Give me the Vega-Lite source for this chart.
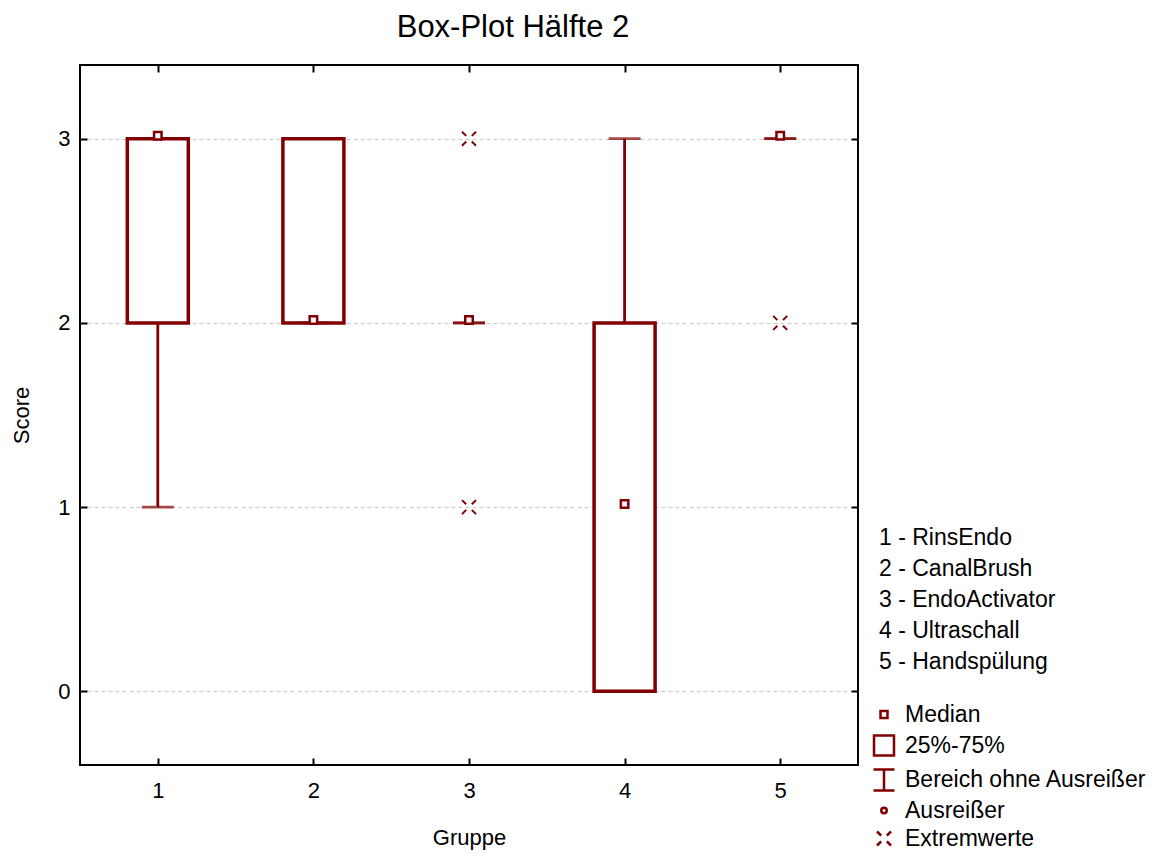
{
  "$schema": "https://vega.github.io/schema/vega-lite/v6.json",
  "width": 778,
  "height": 700,
  "autosize": "none",
  "padding": {"left": 80, "top": 65, "right": 304, "bottom": 92},
  "background": "white",
  "config": {
    "font": "Liberation Sans",
    "view": {"stroke": "black", "strokeWidth": 2},
    "axis": {
      "domain": false,
      "grid": false,
      "tickColor": "black",
      "tickWidth": 2,
      "tickSize": -7,
      "labelFontSize": 22,
      "labelColor": "black",
      "labelFont": "Liberation Sans",
      "titleFontSize": 22,
      "titleFontWeight": "normal",
      "titleColor": "black",
      "titleFont": "Liberation Sans"
    },
    "legend": {
      "labelFont": "Liberation Sans",
      "labelFontSize": 23,
      "labelColor": "black",
      "labelLimit": 500
    }
  },
  "title": {
    "text": "Box-Plot Hälfte 2",
    "fontSize": 31,
    "fontWeight": "normal",
    "color": "black",
    "font": "Liberation Sans",
    "anchor": "middle",
    "dx": 44,
    "offset": -4,
    "baseline": "alphabetic"
  },
  "datasets": {
    "stats": [
      {"g": 1, "name": "1 - RinsEndo", "lo": 1, "q1": 2, "med": 3, "q3": 3, "hi": 3},
      {"g": 2, "name": "2 - CanalBrush", "lo": 2, "q1": 2, "med": 2, "q3": 3, "hi": 3},
      {"g": 3, "name": "3 - EndoActivator", "lo": 2, "q1": 2, "med": 2, "q3": 2, "hi": 2},
      {"g": 4, "name": "4 - Ultraschall", "lo": 0, "q1": 0, "med": 1, "q3": 2, "hi": 3},
      {"g": 5, "name": "5 - Handspülung", "lo": 3, "q1": 3, "med": 3, "q3": 3, "hi": 3}
    ],
    "ext": [
      {"g": 3, "v": 3, "typ": "Extremwerte"},
      {"g": 3, "v": 1, "typ": "Extremwerte"},
      {"g": 5, "v": 2, "typ": "Extremwerte"}
    ]
  },
  "layer": [
    {
      "data": {"name": "stats"},
      "mark": {"type": "rule", "color": "#800000", "strokeWidth": 2.8},
      "encoding": {
        "x": {
          "field": "g", "type": "quantitative",
          "scale": {"domain": [0.5, 5.5], "nice": false, "zero": false, "padding": 0},
          "axis": {"orient": "bottom", "values": [1, 2, 3, 4, 5], "title": "Gruppe", "labelPadding": 22, "titlePadding": 26}
        },
        "y": {
          "field": "lo", "type": "quantitative",
          "scale": {"domain": [-0.4, 3.4], "nice": false, "zero": false, "padding": 0},
          "axis": {"orient": "left", "values": [0, 1, 2, 3], "title": "Score", "grid": true, "gridDash": [4, 3], "gridColor": "#c8c8c8", "gridWidth": 1, "labelPadding": 17, "titlePadding": 24}
        },
        "y2": {"field": "hi"}
      }
    },
    {
      "data": {"name": "stats"},
      "transform": [{"filter": "datum.q3 > datum.q1"}],
      "mark": {"type": "bar", "width": 61, "fill": "white", "stroke": "#800000", "strokeWidth": 3.5},
      "encoding": {
        "x": {"field": "g", "type": "quantitative", "axis": {"orient": "top", "values": [1, 2, 3, 4, 5], "labels": false, "title": null}},
        "y": {"field": "q1", "type": "quantitative", "axis": {"orient": "right", "values": [0, 1, 2, 3], "labels": false, "title": null}},
        "y2": {"field": "q3"}
      }
    },
    {
      "data": {"name": "stats"},
      "mark": {"type": "tick", "orient": "horizontal", "size": 32, "thickness": 2.8, "color": "#800000"},
      "encoding": {
        "x": {"field": "g", "type": "quantitative", "axis": null},
        "y": {"field": "lo", "type": "quantitative", "axis": null}
      }
    },
    {
      "data": {"name": "stats"},
      "mark": {"type": "tick", "orient": "horizontal", "size": 32, "thickness": 2.8, "color": "#800000"},
      "encoding": {
        "x": {"field": "g", "type": "quantitative", "axis": null},
        "y": {"field": "hi", "type": "quantitative", "axis": null}
      }
    },
    {
      "data": {"name": "stats"},
      "mark": {"type": "point", "shape": "square", "size": 56, "filled": false, "fill": "white", "fillOpacity": 1, "strokeWidth": 2.5, "yOffset": -3, "opacity": 1},
      "encoding": {
        "x": {"field": "g", "type": "quantitative", "axis": null},
        "y": {"field": "med", "type": "quantitative", "axis": null},
        "stroke": {
          "field": "name", "type": "nominal",
          "scale": {"domain": ["1 - RinsEndo", "2 - CanalBrush", "3 - EndoActivator", "4 - Ultraschall", "5 - Handspülung"], "range": ["#800000", "#800000", "#800000", "#800000", "#800000"]},
          "legend": {"title": null, "orient": "none", "legendX": 772, "legendY": 461, "symbolOpacity": 0, "symbolSize": 0, "symbolStrokeWidth": 0, "labelOffset": 4, "rowPadding": 7}
        }
      }
    },
    {
      "data": {"name": "ext"},
      "mark": {"type": "point", "filled": false, "strokeWidth": 2, "color": "#800000", "opacity": 1},
      "encoding": {
        "x": {"field": "g", "type": "quantitative", "axis": null},
        "y": {"field": "v", "type": "quantitative", "axis": null},
        "shape": {
          "field": "typ", "type": "nominal",
          "scale": {
            "domain": ["Median", "25%-75%", "Bereich ohne Ausreißer", "Ausreißer", "Extremwerte"],
            "range": ["square", "square", "M-1,-1H1M0,-1V1M-1,1H1", "circle", "M-1,-1L-0.4,-0.4M1,-1L0.4,-0.4M-1,1L-0.4,0.4M1,1L0.4,0.4"]
          },
          "legend": {
            "title": null, "orient": "none", "legendX": 792, "legendY": 638,
            "symbolStrokeColor": "#800000", "symbolFillColor": "white", "symbolStrokeWidth": 2.5,
            "labelOffset": 9, "rowPadding": 3,
            "encode": {"symbols": {"update": {"fill": {"value": "white"}, "stroke": {"value": "#800000"}, "opacity": {"value": 1}}}}
          }
        },
        "size": {
          "field": "typ", "type": "nominal",
          "scale": {
            "type": "ordinal",
            "domain": ["Median", "25%-75%", "Bereich ohne Ausreißer", "Ausreißer", "Extremwerte"],
            "range": [49, 400, 441, 30, 196]
          }
        }
      }
    }
  ],
  "resolve": {"axis": {"x": "independent", "y": "independent"}}
}
